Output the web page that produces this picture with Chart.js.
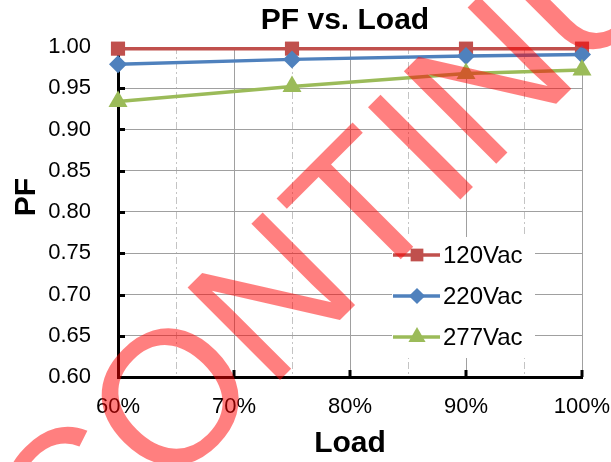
<!DOCTYPE html>
<html><head><meta charset="utf-8">
<script src="https://cdn.jsdelivr.net/npm/chart.js@4.4.0/dist/chart.umd.min.js"></script>
<style>html,body{margin:0;padding:0;background:#fff;}#wrap{width:611px;height:462px;position:relative;}</style>
</head><body><div id="wrap"><canvas id="c" width="611" height="462"></canvas></div>
<script>
const chartTitle = 'PF vs. Load';
const xTitle = 'Load';
const yTitle = 'PF';
const loads = [60, 75, 90, 100];
const seriesNames = ['120Vac', '220Vac', '277Vac'];
const pf120 = [0.998, 0.998, 0.998, 0.998];
const pf220 = [0.979, 0.985, 0.989, 0.991];
const pf277 = [0.934, 0.952, 0.968, 0.972];
const watermarkText = 'DISCONTINUED';

const FONT = "'Liberation Sans', Arial, sans-serif";
const colors = ['#C0504D', '#4F81BD', '#9BBB59'];
const styles = ['rect', 'rectRot', 'triangle'];
const radii = [10, 9, 11];
const seriesValues = [pf120, pf220, pf277];

const datasets = seriesNames.map((name, k) => ({
  label: name,
  data: loads.map((x, i) => ({x: x, y: seriesValues[k][i]})),
  borderColor: colors[k],
  backgroundColor: colors[k],
  pointBackgroundColor: colors[k],
  pointBorderColor: colors[k],
  borderWidth: 3.5,
  pointStyle: styles[k],
  pointRadius: radii[k],
  pointBorderWidth: 0,
  tension: 0,
  clip: false,
  order: 3 - k
}));

function marker(ctx, style, x, y, r, color) {
  ctx.save();
  ctx.fillStyle = color;
  ctx.beginPath();
  if (style === 'rect') {
    const s = Math.SQRT1_2 * r;
    ctx.rect(x - s, y - s, 2 * s, 2 * s);
  } else if (style === 'rectRot') {
    ctx.moveTo(x - r, y); ctx.lineTo(x, y - r); ctx.lineTo(x + r, y); ctx.lineTo(x, y + r); ctx.closePath();
  } else {
    for (let i = 0; i < 3; i++) {
      const a = i * 2 * Math.PI / 3;
      const px = x + Math.sin(a) * r, py = y - Math.cos(a) * r;
      if (i === 0) ctx.moveTo(px, py); else ctx.lineTo(px, py);
    }
    ctx.closePath();
  }
  ctx.fill();
  ctx.restore();
}

const noPad = s => { s.paddingLeft = 0; s.paddingRight = 0; s.paddingTop = 0; s.paddingBottom = 0; };

const decor = {
  id: 'decor',
  beforeDatasetsDraw(chart) {
    const ctx = chart.ctx, ca = chart.chartArea;
    const xs = chart.scales.x, ys = chart.scales.y;
    ctx.save();
    ctx.strokeStyle = '#000';
    ctx.lineWidth = 3;
    ys.ticks.forEach(t => {
      if (t.value <= ys.min + 1e-9) return;
      const y = Math.round(ys.getPixelForValue(t.value)) + 0.5;
      ctx.beginPath(); ctx.moveTo(ca.left, y); ctx.lineTo(ca.left + 7, y); ctx.stroke();
    });
    xs.ticks.forEach(t => {
      if (t.value <= xs.min + 1e-9) return;
      const x = Math.round(xs.getPixelForValue(t.value));
      ctx.beginPath(); ctx.moveTo(x, ca.bottom); ctx.lineTo(x, ca.bottom - 7); ctx.stroke();
    });
    ctx.restore();
  },
  afterDatasetsDraw(chart) {
    const ctx = chart.ctx, ca = chart.chartArea;
    const left = ca.right - 190, right = ca.right - 47, top = ca.top + 190, bottom = ca.top + 311;
    ctx.save();
    ctx.fillStyle = '#fff';
    ctx.fillRect(left, top, right - left, bottom - top);
    chart.data.datasets.forEach((ds, k) => {
      const y = ca.top + 208 + k * 41;
      ctx.strokeStyle = ds.borderColor;
      ctx.lineWidth = 3.5;
      ctx.beginPath(); ctx.moveTo(left + 1, y); ctx.lineTo(left + 48, y); ctx.stroke();
      marker(ctx, ds.pointStyle, left + 25, y, ds.pointRadius * 0.9, ds.borderColor);
      ctx.fillStyle = '#000';
      ctx.font = '24px ' + FONT;
      ctx.textAlign = 'left';
      ctx.textBaseline = 'middle';
      ctx.fillText(ds.label, left + 51, y + 1);
    });
    ctx.restore();
  },
  afterDraw(chart) {
    const ctx = chart.ctx;
    ctx.save();
    ctx.fillStyle = '#000';
    ctx.font = 'bold 30px ' + FONT;
    ctx.textAlign = 'center';
    ctx.textBaseline = 'alphabetic';
    ctx.fillText(chartTitle, 345, 29);
    ctx.translate(34.5, 197);
    ctx.rotate(-Math.PI / 2);
    ctx.fillText(yTitle, 0, 0);
    ctx.restore();
    ctx.save();
    ctx.translate(354.7, 305.3);
    ctx.rotate(-Math.PI / 4);
    ctx.fillStyle = 'rgba(255,0,0,0.5)';
    ctx.font = '190px ' + FONT;
    ctx.textAlign = 'center';
    ctx.textBaseline = 'alphabetic';
    ctx.fillText(watermarkText, 0, 0);
    ctx.restore();
  }
};

new Chart(document.getElementById('c'), {
  type: 'line',
  data: {datasets: datasets},
  options: {
    responsive: false,
    animation: false,
    devicePixelRatio: 1,
    layout: {padding: {top: 47, right: 29, left: 0, bottom: 0}},
    plugins: {legend: {display: false}, title: {display: false}, tooltip: {enabled: false}},
    scales: {
      x: {
        type: 'linear', position: 'bottom', min: 60, max: 100,
        afterFit: s => { s.height = 85; noPad(s); },
        ticks: {stepSize: 10, padding: 17, color: '#000', font: {family: FONT, size: 22},
          callback: v => v + '%'},
        grid: {color: '#a0a0a0', lineWidth: 1, drawTicks: false},
        border: {color: '#000', width: 3},
        title: {display: true, text: xTitle, color: '#000', font: {family: FONT, size: 30, weight: 'bold'}, padding: {top: 0, bottom: 0}}
      },
      x2: {
        type: 'linear', position: 'bottom', min: 60, max: 100,
        afterFit: s => { s.height = 0; noPad(s); },
        ticks: {stepSize: 5, display: false},
        grid: {color: ctx => (ctx.tick && Math.round(ctx.tick.value) % 10 === 0) ? 'rgba(0,0,0,0)' : '#c4c4c4', lineWidth: 1, drawTicks: false},
        border: {display: false, dash: [7, 3, 2, 3]}
      },
      y: {
        min: 0.6, max: 1.0,
        afterFit: s => { s.width = 118; noPad(s); },
        ticks: {stepSize: 0.05, padding: 27, color: '#000', font: {family: FONT, size: 22},
          callback: v => v.toFixed(2)},
        grid: {color: '#a0a0a0', lineWidth: 1, drawTicks: false},
        border: {color: '#000', width: 3},
        title: {display: false, text: yTitle}
      }
    }
  },
  plugins: [decor]
});
</script>
</body></html>
